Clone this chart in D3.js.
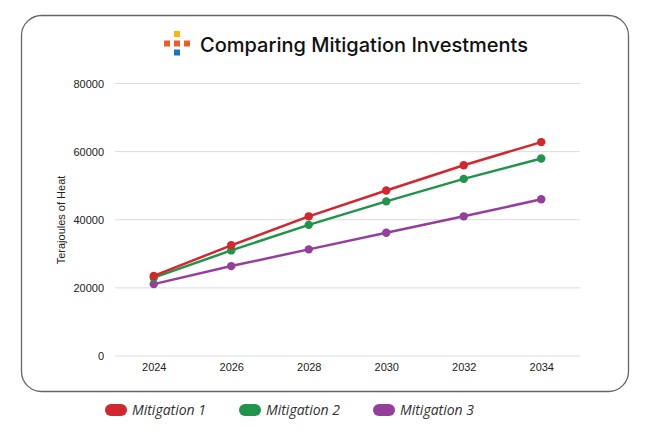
<!DOCTYPE html>
<html>
<head>
<meta charset="utf-8">
<script src="https://cdn.jsdelivr.net/npm/d3@7"></script>
<style>
  body { margin: 0; background: #fff; }
  svg { display: block; }
</style>
</head>
<body>
<div id="chart"></div>
<script>
// data
const years = ["2024", "2026", "2028", "2030", "2032", "2034"];
const mitigation1 = [23500, 32500, 41000, 48600, 56000, 62800];
const mitigation2 = [23000, 31000, 38500, 45400, 52000, 58000];
const mitigation3 = [21100, 26400, 31300, 36200, 41000, 46000];
const seriesNames = ["Mitigation 1", "Mitigation 2", "Mitigation 3"];
const seriesColors = ["#d4262e", "#1f944a", "#943f9b"];
const yTicks = [0, 20000, 40000, 60000, 80000];

const series = [mitigation1, mitigation2, mitigation3].map((vals, i) => ({
  name: seriesNames[i],
  color: seriesColors[i],
  values: vals.map((v, j) => ({ year: years[j], value: v })),
}));

const W = 650, H = 433;
const svg = d3.select("#chart").append("svg")
  .attr("width", W)
  .attr("height", H);

// frame
svg.append("rect")
  .attr("x", 21.5).attr("y", 15.5)
  .attr("width", 607).attr("height", 376)
  .attr("rx", 20).attr("ry", 20)
  .attr("fill", "none")
  .attr("stroke", "#666")
  .attr("stroke-width", 1.3);

// icon
const icon = svg.append("g").attr("transform", "translate(164,31)");
const iconCells = [
  { x: 10, y: 0, c: "#f5b70f" },
  { x: 0, y: 9.5, c: "#e95f2b" },
  { x: 10, y: 9.5, c: "#e95f2b" },
  { x: 20, y: 9.5, c: "#e95f2b" },
  { x: 10, y: 18.5, c: "#1677c5" },
];
icon.selectAll("rect").data(iconCells).enter().append("rect")
  .attr("x", (d) => d.x).attr("y", (d) => d.y)
  .attr("width", 6).attr("height", 6)
  .attr("fill", (d) => d.c);

svg.append("text")
  .attr("x", 200).attr("y", 52)
  .attr("font-family", "Inter, 'Liberation Sans', sans-serif")
  .attr("font-size", "20px")
  .attr("font-weight", 500)
  .attr("fill", "#111")
  .text("Comparing Mitigation Investments");

const x = d3.scalePoint()
  .domain(years)
  .range([115, 580])
  .padding(0.5);

const y = d3.scaleLinear()
  .domain([0, 80000])
  .range([356, 83.5]);

// gridlines
svg.append("g")
  .selectAll("line")
  .data(yTicks)
  .enter()
  .append("line")
  .attr("x1", 115).attr("x2", 580)
  .attr("y1", (d) => y(d)).attr("y2", (d) => y(d))
  .attr("stroke", "#dcdcdc")
  .attr("stroke-width", 1);

// y axis
const yAxis = svg.append("g")
  .attr("transform", "translate(107,0)")
  .call(d3.axisLeft(y).tickValues(yTicks).tickSize(0).tickFormat(d3.format("d")));
yAxis.select(".domain").remove();
yAxis.selectAll("text")
  .attr("font-family", "'Liberation Sans', Arial, sans-serif")
  .attr("font-size", "11px")
  .attr("fill", "#222");

// x axis
const xAxis = svg.append("g")
  .attr("transform", "translate(0,360)")
  .call(d3.axisBottom(x).tickSize(0));
xAxis.select(".domain").remove();
xAxis.selectAll("text")
  .attr("font-family", "'Liberation Sans', Arial, sans-serif")
  .attr("font-size", "11px")
  .attr("fill", "#222");

svg.append("text")
  .attr("transform", "translate(65,220) rotate(-90)")
  .attr("text-anchor", "middle")
  .attr("font-family", "'Liberation Sans', Arial, sans-serif")
  .attr("font-size", "11px")
  .attr("fill", "#222")
  .text("Terajoules of Heat");

// lines
const line = d3.line()
  .x((d) => x(d.year))
  .y((d) => y(d.value));

// draw lowest series first so red sits on top
const order = series.slice().reverse();
const groups = svg.selectAll("g.serie")
  .data(order)
  .enter()
  .append("g")
  .attr("class", "serie");

groups.append("path")
  .attr("d", (d) => line(d.values))
  .attr("fill", "none")
  .attr("stroke", (d) => d.color)
  .attr("stroke-width", 2.5);

groups.selectAll("circle")
  .data((d) => d.values.map((v) => ({ ...v, color: d.color })))
  .enter()
  .append("circle")
  .attr("cx", (d) => x(d.year))
  .attr("cy", (d) => y(d.value))
  .attr("r", 4.2)
  .attr("fill", (d) => d.color);

// legend
const legendX = [105, 239, 373];
const legend = svg.selectAll("g.leyenda")
  .data(series)
  .enter()
  .append("g")
  .attr("class", "leyenda")
  .attr("transform", (d, i) => "translate(" + legendX[i] + ",404)");

legend.append("rect")
  .attr("width", 22).attr("height", 12)
  .attr("rx", 6).attr("ry", 6)
  .attr("fill", (d) => d.color);

legend.append("text")
  .attr("x", 27).attr("y", 11)
  .attr("font-family", "'Open Sans', sans-serif")
  .attr("font-style", "italic")
  .attr("font-size", "14px")
  .attr("fill", "#333")
  .text((d) => d.name);
</script>
</body>
</html>
